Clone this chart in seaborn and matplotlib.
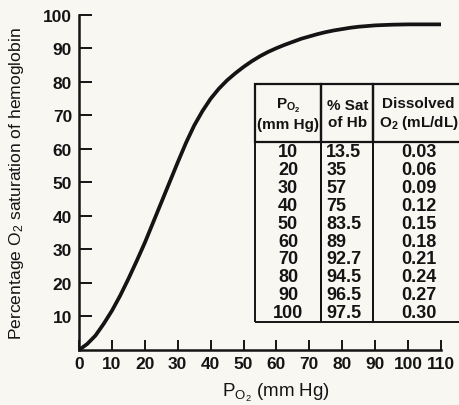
import numpy as np
import pandas as pd
import matplotlib
matplotlib.use("Agg")
import matplotlib.pyplot as plt
import seaborn as sns

# curve (PO2 in mm Hg, % saturation)
curve_po2 = [0, 2.5, 5, 7.5, 10, 12.5, 15, 17.5, 20, 22.5, 25, 27.5, 30, 32.5, 35, 37.5, 40,
             42.5, 45, 47.5, 50, 52.5, 55, 57.5, 60, 62.5, 65, 67.5, 70, 72.5, 75, 77.5, 80,
             82.5, 85, 87.5, 90, 95, 100, 105, 110]
curve_sat = [0, 1.8, 4.3, 7.8, 11.7, 16.2, 21.2, 26.5, 32, 38, 44, 50, 56, 61.8, 67, 71.3, 75,
             78, 80.5, 82.6, 84.5, 86.2, 87.7, 89, 90.1, 91.1, 92, 92.9, 93.6, 94.3, 94.9, 95.4, 95.8,
             96.2, 96.5, 96.7, 96.9, 97.1, 97.2, 97.2, 97.2]

# table values
table_po2 = ["10", "20", "30", "40", "50", "60", "70", "80", "90", "100"]
table_sat = ["13.5", "35", "57", "75", "83.5", "89", "92.7", "94.5", "96.5", "97.5"]
table_dissolved = ["0.03", "0.06", "0.09", "0.12", "0.15", "0.18", "0.21", "0.24", "0.27", "0.30"]
table_header = ["P$_{\\mathregular{O_2}}$\n(mm Hg)", "% Sat\nof Hb", "Dissolved\nO$_{\\mathregular{2}}$ (mL/dL)"]

x_ticks = list(range(0, 111, 10))
y_ticks = list(range(10, 101, 10))

bg = "#f8f7f2"
ink = "#141414"

sns.set_theme(style="ticks")
plt.rcParams["font.family"] = ["Liberation Sans", "DejaVu Sans"]
plt.rcParams["mathtext.fontset"] = "custom"
plt.rcParams["mathtext.rm"] = "Liberation Sans"
plt.rcParams["mathtext.it"] = "Liberation Sans"

fig = plt.figure(figsize=(4.6, 4.06), dpi=100, facecolor=bg)
ax = fig.add_axes([0.1717, 0.1355, 0.7870, 0.8251])
ax.set_facecolor(bg)

df = pd.DataFrame({"po2": curve_po2, "sat": curve_sat})
sns.lineplot(data=df, x="po2", y="sat", color=ink, linewidth=2.7, ax=ax)

ax.set_xlim(0, 110)
ax.set_ylim(0, 100)
ax.set_xticks(x_ticks)
ax.set_yticks(y_ticks)
ax.set_xticklabels([str(t) for t in x_ticks], fontsize=12.5, fontweight="bold", color=ink)
ax.set_yticklabels([str(t) for t in y_ticks], fontsize=12.5, fontweight="bold", color=ink)
ax.tick_params(axis="x", direction="in", length=7, width=1.4, pad=4, colors=ink)
ax.tick_params(axis="y", direction="in", length=9, width=1.4, pad=5, colors=ink)
for side in ["top", "right"]:
    ax.spines[side].set_visible(False)
for side in ["left", "bottom"]:
    ax.spines[side].set_linewidth(1.8)
    ax.spines[side].set_color(ink)

ax.set_xlabel("P$_{\\mathregular{O_2}}$ (mm Hg)", fontsize=13.5, color=ink)
ax.set_ylabel("Percentage O$_{\\mathregular{2}}$ saturation of hemoglobin", fontsize=12.6, color=ink)
ax.xaxis.set_label_coords(0.545, -0.093)
ax.yaxis.set_label_coords(-0.145, 0.5)

# data table drawn on top of the chart, running past the right edge
rows = [list(r) for r in zip(table_po2, table_sat, table_dissolved)]
tbl = ax.table(cellText=rows, colLabels=table_header,
               colWidths=[20.1, 15.9, 27.5],
               bbox=[0.486, 0.084, 0.577, 0.71])
tbl.auto_set_font_size(False)
n_rows = len(rows)
for (r, c), cell in tbl.get_celld().items():
    cell.set_facecolor("none")
    cell.set_edgecolor(ink)
    cell.set_linewidth(1.4)
    cell.get_text().set_color(ink)
    cell.get_text().set_fontweight("bold")
    if r == 0:
        cell.set_height(0.245)
        cell.visible_edges = "closed"
        cell.set_linewidth(1.6)
        cell.get_text().set_fontsize(11)
        cell.get_text().set_linespacing(1.25)
    else:
        cell.set_height(0.0755)
        cell.visible_edges = "LRB" if r == n_rows else "LR"
        cell.get_text().set_fontsize(13)
        cell.set_text_props(ha="left" if c == 1 else "center")
        if c == 1:
            cell._loc = "left"
            cell.PAD = 0.1

fig.savefig("out.png", dpi=100, facecolor=bg)
